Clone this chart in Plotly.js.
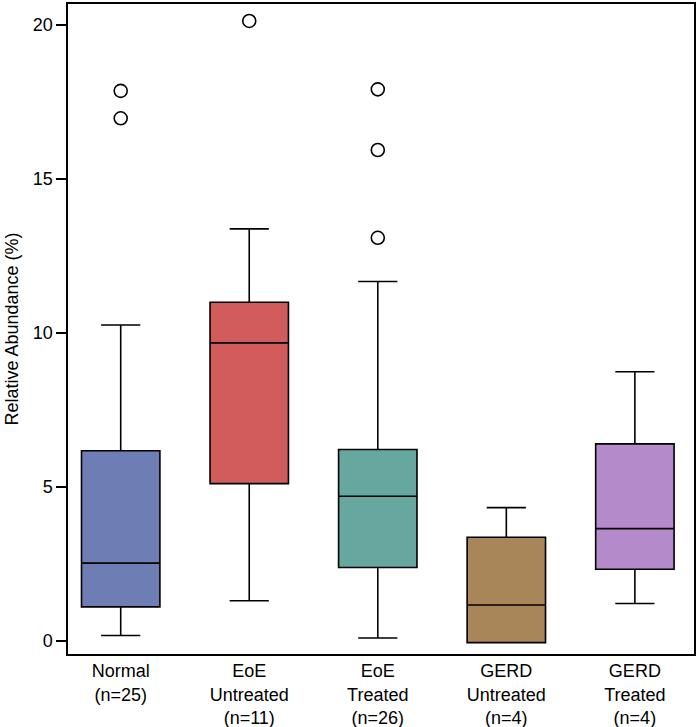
<!DOCTYPE html>
<html>
<head>
<meta charset="utf-8">
<script src="https://cdn.plot.ly/plotly-3.0.1.min.js"></script>
<style>html,body{margin:0;padding:0;background:#fff;}</style>
</head>
<body>
<div id="chart" style="width:699px;height:727px;"></div>
<script>
const categories = ["Normal<br>(n=25)", "EoE<br>Untreated<br>(n=11)", "EoE<br>Treated<br>(n=26)", "GERD<br>Untreated<br>(n=4)", "GERD<br>Treated<br>(n=4)"];
const lowerWhisker = [0.18, 1.31, 0.10, -0.05, 1.22];
const q1Values = [1.11, 5.11, 2.39, -0.05, 2.33];
const medianValues = [2.53, 9.68, 4.70, 1.17, 3.65];
const q3Values = [6.18, 11.00, 6.22, 3.37, 6.40];
const upperWhisker = [10.26, 13.38, 11.67, 4.33, 8.74];
const outlierCategory = ["Normal<br>(n=25)", "Normal<br>(n=25)", "EoE<br>Untreated<br>(n=11)", "EoE<br>Treated<br>(n=26)", "EoE<br>Treated<br>(n=26)", "EoE<br>Treated<br>(n=26)"];
const outlierValues = [17.86, 16.97, 20.13, 17.91, 15.94, 13.09];
const fillColors = ["#6e7db3", "#d25b5b", "#66a8a0", "#a8865a", "#b48acb"];
const yTicks = [0, 5, 10, 15, 20];

const traces = categories.map((c, i) => ({
  type: "box",
  x: [c],
  q1: [q1Values[i]],
  median: [medianValues[i]],
  q3: [q3Values[i]],
  lowerfence: [lowerWhisker[i]],
  upperfence: [upperWhisker[i]],
  fillcolor: fillColors[i],
  line: {color: "#000", width: 1.6},
  width: 0.61,
  whiskerwidth: 0.5,
  boxpoints: false,
  hoverinfo: "skip",
  showlegend: false
}));
traces.push({
  type: "scatter",
  mode: "markers",
  x: outlierCategory,
  y: outlierValues,
  marker: {symbol: "circle-open", size: 13, color: "#000", line: {width: 1.6, color: "#000"}},
  showlegend: false,
  hoverinfo: "skip"
});

const layout = {
  width: 699, height: 727,
  margin: {l: 68, r: 5, t: 4, b: 73},
  paper_bgcolor: "#fff", plot_bgcolor: "#fff",
  boxmode: "overlay",
  font: {family: "Liberation Sans, Arial, sans-serif", color: "#000"},
  xaxis: {
    type: "category",
    categoryorder: "array",
    categoryarray: categories,
    range: [-0.41, 4.46],
    showline: true, mirror: true, linecolor: "#000", linewidth: 1.6,
    ticks: "", showgrid: false, zeroline: false,
    tickfont: {size: 18, color: "#000"}
  },
  yaxis: {
    range: [-0.42, 20.68],
    tickvals: yTicks,
    ticktext: yTicks.map(String),
    ticks: "outside", ticklen: 10, tickwidth: 1.4, tickcolor: "#000",
    showline: true, mirror: true, linecolor: "#000", linewidth: 1.6,
    showgrid: false, zeroline: false,
    tickfont: {size: 18, color: "#000"},
    title: {text: "Relative Abundance (%)", font: {size: 18, color: "#000"}, standoff: 9}
  }
};

Plotly.newPlot("chart", traces, layout, {staticPlot: true, displayModeBar: false});
</script>
</body>
</html>
